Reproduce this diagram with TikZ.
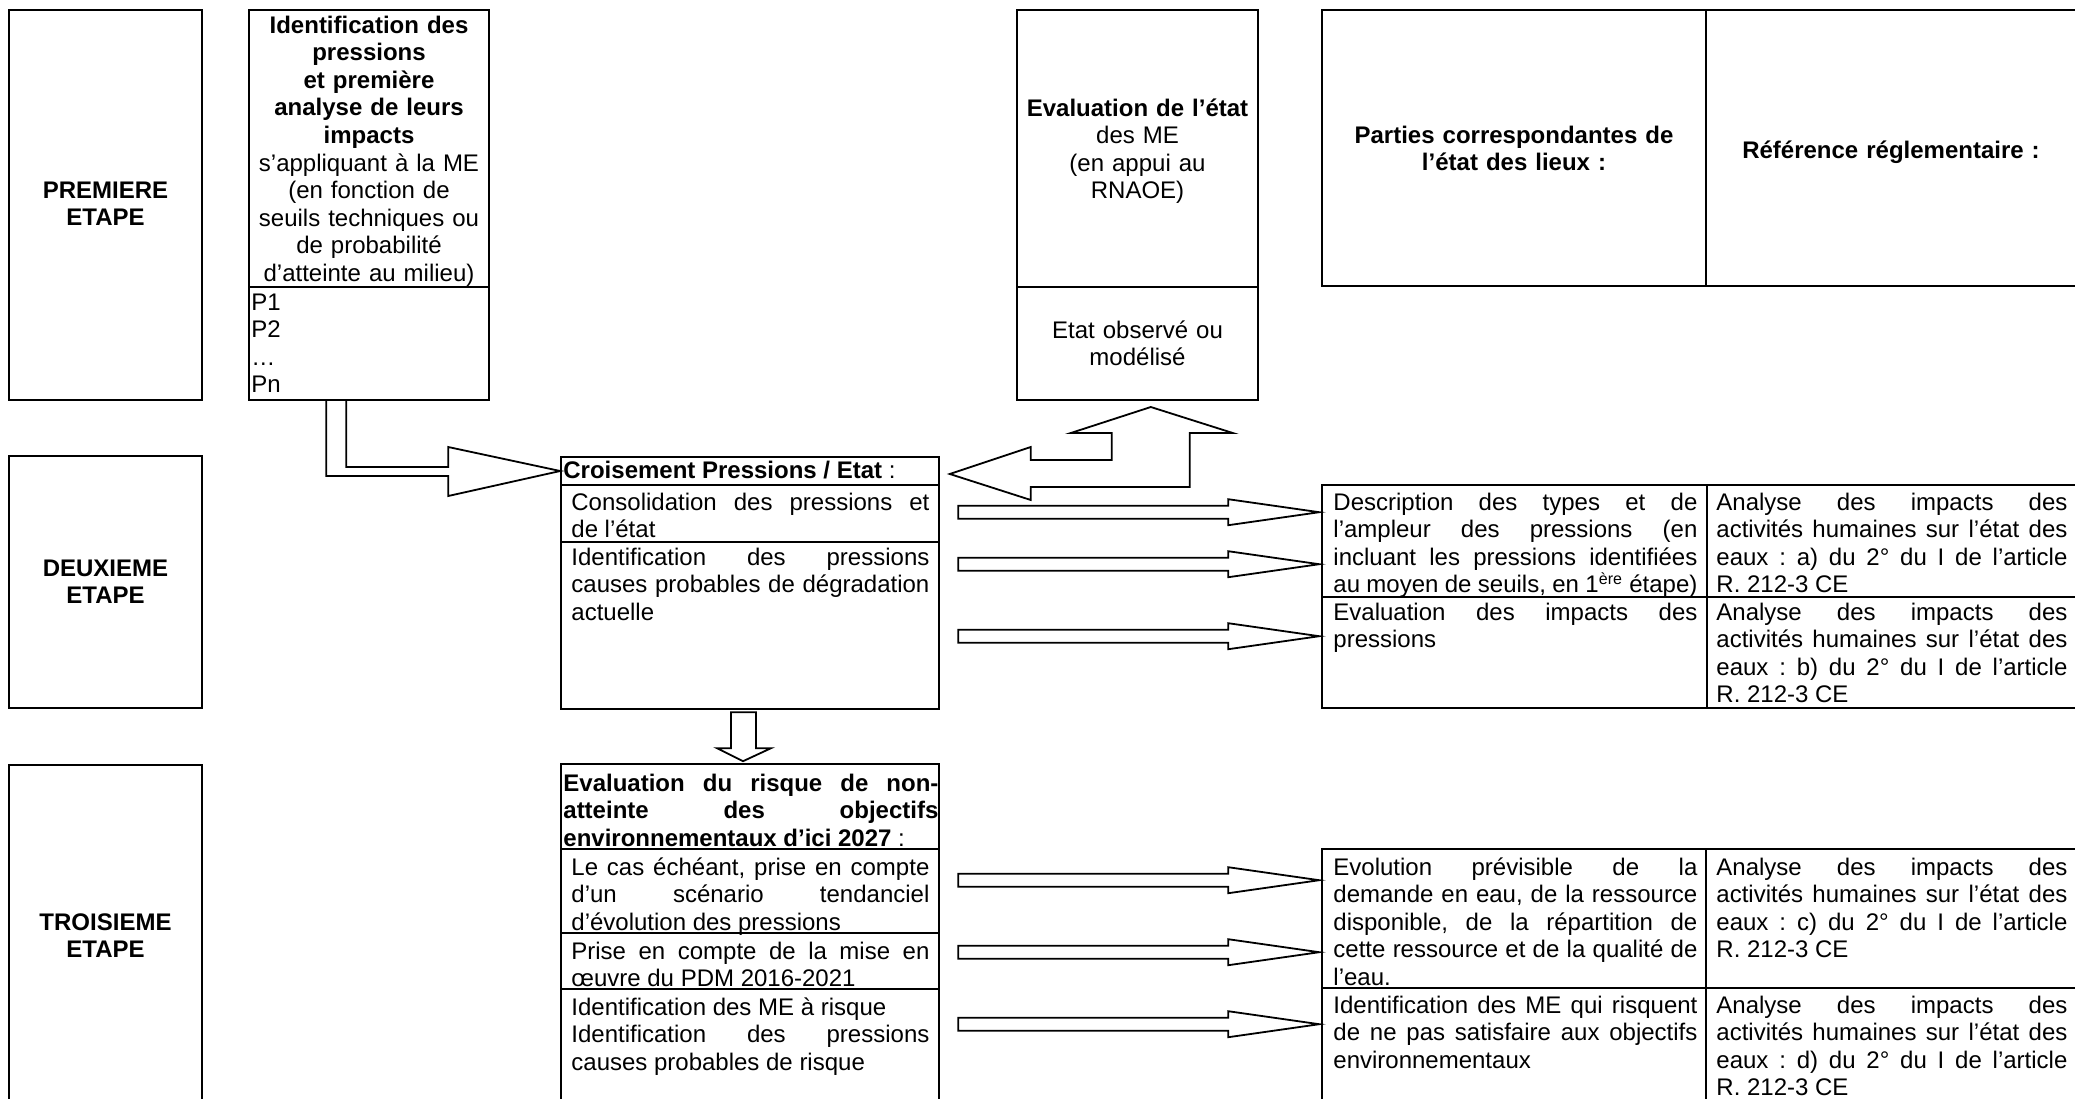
\documentclass[tikz,border=0pt]{standalone}
\usepackage{fontspec}
\setmainfont{Liberation Sans}
\usetikzlibrary{fit,calc}
\tolerance=10000 \hbadness=10000 \hyphenpenalty=10000 \adjdemerits=0 \frenchspacing
\newcommand{\flechedroite}[1]{\draw[fleche] (#1) -- ++(-91,-13) -- ++(0,6.5) -- ++(-270,0) -- ++(0,13) -- ++(270,0) -- ++(0,6.5) -- cycle;}
\begin{document}
\begin{tikzpicture}[x=0.5pt, y=-0.5pt, line join=miter,
	every node/.style={font=\fontsize{12pt}{13.8pt}\selectfont},
	boite/.style={draw, line width=0.8pt, inner sep=0pt},
	titre/.style={anchor=base, inner sep=0pt, align=center, text width=118pt},
	etape/.style={titre, text width=90pt, font=\fontsize{12pt}{13.8pt}\selectfont\bfseries},
	cellule/.style={anchor=base west, inner sep=0pt, align=justify, text width=179pt},
	fleche/.style={draw, line width=0.9pt, fill=white}]
	\useasboundingbox (0,0) rectangle (2075,1098);
	\clip (0,0) rectangle (2075,1098);
	\node[boite, fit={(9,10) (202,400)}] (prem) {};
	\node[boite, fit={(9,456) (202,708)}] (deux) {};
	\node[boite, fit={(9,765) (202,1104)}] (trois) {};
	\node[etape] (premtxt) at (105.5,198) {PREMIERE\\ETAPE};
	\node[etape] (deuxtxt) at (105.5,576) {DEUXIEME\\ETAPE};
	\node[etape] (troistxt) at (105.5,930) {TROISIEME\\ETAPE};
	\node[boite, fit={(249,10) (489,287)}] (ident) {};
	\node[boite, fit={(249,287) (489,400)}] (identp) {};
	\node[titre] (identtxt) at (369,33) {\textbf{Identification des}\\\textbf{pressions}\\\textbf{et première}\\\textbf{analyse de leurs}\\\textbf{impacts}\\s’appliquant à la ME\\(en fonction de\\seuils techniques ou\\de probabilité\\d’atteinte au milieu)};
	\node[cellule, align=left, text width=115pt] (identptxt) at (251,310) {P1\\P2\\…\\Pn};
	\node[boite, fit={(1017,10) (1258,287)}] (etat) {};
	\node[boite, fit={(1017,287) (1258,400)}] (etatobs) {};
	\node[titre] (etattxt) at (1137.5,116) {\textbf{Evaluation de l’état}\\des ME\\(en appui au\\RNAOE)};
	\node[titre] (etatobstxt) at (1137.5,338) {Etat observé ou\\modélisé};
	\node[boite, fit={(1322,10) (1706,286)}] (parties) {};
	\node[boite, fit={(1706,10) (2077,286)}] (refer) {};
	\node[etape, text width=185pt] (partiestxt) at (1514,143) {Parties correspondantes de\\l’état des lieux :};
	\node[etape, text width=180pt] (refertxt) at (1891,158) {Référence réglementaire :};
	\node[boite, fit={(561,457) (939,485)}] (croh) {};
	\node[boite, fit={(561,485) (939,542)}] (cro1) {};
	\node[boite, fit={(561,542) (939,709)}] (cro2) {};
	\node[cellule, text width=187.5pt] (crohtxt) at (563,478) {\textbf{Croisement Pressions / Etat}~:};
	\node[cellule] (cro1txt) at (571,510) {Consolidation des pressions et\linebreak de l’état};
	\node[cellule] (cro2txt) at (571,565) {Identification des pressions\linebreak causes probables de dégradation\linebreak actuelle};
	\node[boite, fit={(561,764) (939,849)}] (rish) {};
	\node[boite, fit={(561,849) (939,933)}] (ris1) {};
	\node[boite, fit={(561,933) (939,989)}] (ris2) {};
	\node[boite, fit={(561,989) (939,1110)}] (ris3) {};
	\node[cellule, text width=187.5pt] (rishtxt) at (563,791) {\textbf{Evaluation du risque de non-}\linebreak\textbf{atteinte des objectifs}\linebreak\textbf{environnementaux d’ici 2027}~:};
	\node[cellule] (ris1txt) at (571,875) {Le cas échéant, prise en compte\linebreak d’un scénario tendanciel\linebreak d’évolution des pressions};
	\node[cellule] (ris2txt) at (571,959) {Prise en compte de la mise en\linebreak œuvre du PDM 2016-2021};
	\node[cellule] (ris3txt) at (571,1015) {Identification des ME à risque\newline Identification des pressions\linebreak causes probables de risque};
	\node[boite, fit={(1322,485) (1707,597)}] (desc) {};
	\node[boite, fit={(1707,485) (2077,597)}] (ana1) {};
	\node[boite, fit={(1322,597) (1707,708)}] (evim) {};
	\node[boite, fit={(1707,597) (2077,708)}] (ana2) {};
	\node[cellule, text width=182pt] (desctxt) at (1333,510) {Description des types et de\linebreak l’ampleur des pressions (en\linebreak incluant les pressions identifiées\linebreak au moyen de seuils, en 1\textsuperscript{ère} étape)};
	\node[cellule, text width=175.5pt] (ana1txt) at (1716,510) {Analyse des impacts des\linebreak activités humaines sur l’état des\linebreak eaux~: a) du 2° du I de l’article\linebreak R. 212-3 CE};
	\node[cellule, text width=182pt] (evimtxt) at (1333,620) {Evaluation des impacts des\linebreak pressions};
	\node[cellule, text width=175.5pt] (ana2txt) at (1716,620) {Analyse des impacts des\linebreak activités humaines sur l’état des\linebreak eaux~: b) du 2° du I de l’article\linebreak R. 212-3 CE};
	\node[boite, fit={(1322,849) (1706,988)}] (evol) {};
	\node[boite, fit={(1706,849) (2077,988)}] (ana3) {};
	\node[boite, fit={(1322,988) (1706,1110)}] (idme) {};
	\node[boite, fit={(1706,988) (2077,1110)}] (ana4) {};
	\node[cellule, text width=182pt] (evoltxt) at (1333,875) {Evolution prévisible de la\linebreak demande en eau, de la ressource\linebreak disponible, de la répartition de\linebreak cette ressource et de la qualité de\linebreak l’eau.};
	\node[cellule, text width=175.5pt] (ana3txt) at (1716,875) {Analyse des impacts des\linebreak activités humaines sur l’état des\linebreak eaux~: c) du 2° du I de l’article\linebreak R. 212-3 CE};
	\node[cellule, text width=182pt] (idmetxt) at (1333,1013) {Identification des ME qui risquent\linebreak de ne pas satisfaire aux objectifs\linebreak environnementaux};
	\node[cellule, text width=175.5pt] (ana4txt) at (1716,1013) {Analyse des impacts des\linebreak activités humaines sur l’état des\linebreak eaux~: d) du 2° du I de l’article\linebreak R. 212-3 CE};
	\draw[fleche] (croh.west) -- ++(-112,-24) -- ++(0,20) -- ++(-102,0) -- ++(0,-67) -- ++(-20,0) -- ++(0,76) -- ++(122,0) -- ++(0,20) -- cycle;
	\draw[fleche] ($(croh.east)+(10,3)$) -- ++(81,-27) -- ++(0,13) -- ++(81,0) -- ++(0,-27) -- ++(-41,0) -- ++(80,-26) -- ++(82,26) -- ++(-43,0) -- ++(0,54) -- ++(-159,0) -- ++(0,13) -- cycle;
	\draw[fleche] ($(rish.north)+(-7,-2)$) -- ++(-26,-13) -- ++(14,0) -- ++(0,-36) -- ++(25,0) -- ++(0,36) -- ++(15,0) -- cycle;
	\flechedroite{$(desc.north west)+(-2,28)$}
	\flechedroite{$(desc.north west)+(-2,80)$}
	\flechedroite{$(evim.north west)+(-2,40)$}
	\flechedroite{$(evol.north west)+(-2,32)$}
	\flechedroite{$(evol.north west)+(-2,104)$}
	\flechedroite{$(idme.north west)+(-2,37)$}
\end{tikzpicture}
\end{document}
